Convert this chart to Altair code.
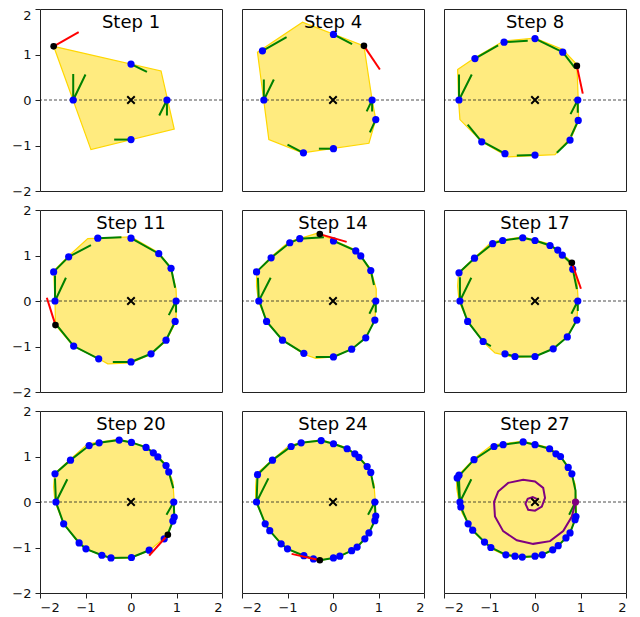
import altair as alt
import pandas as pd

# ---------------- data ----------------
TITLES = ["Step 1", "Step 4", "Step 8", "Step 11", "Step 14", "Step 17", "Step 20", "Step 24", "Step 27"]
TICKS = [-2, -1, 0, 1, 2]

# Step 1
S1_HULL = [(-1.70, 1.18), (0.66, 0.64), (0.95, -0.64), (-0.88, -1.09)]
S1_BLUE = [(0, 0.79), (-1.27, 0), (0.79, 0), (0, -0.87)]
S1_BLACK = [(-1.70, 1.18)]
S1_GREEN = [[(-1.27, 0.57), (-1.27, 0), (-1.00, 0.56)],
            [(0, 0.79), (0.35, 0.62)],
            [(0.62, -0.34), (0.79, 0), (0.79, -0.34)],
            [(0, -0.87), (-0.37, -0.87)]]
S1_RED = [(-1.70, 1.18), (-1.15, 1.49)]

# Step 4
S4_HULL = [(-1.66, 1.05), (-0.67, 1.71), (0.68, 1.19), (0.86, 0.0), (0.94, -0.43), (0.79, -0.95),
           (-0.67, -1.16), (-1.41, -0.87)]
S4_BLUE = [(-1.55, 1.08), (0.01, 1.44), (-1.52, 0), (0.86, 0), (0.94, -0.43), (0.01, -1.07), (-0.65, -1.16)]
S4_BLACK = [(0.68, 1.19)]
S4_GREEN = [[(-1.52, 0.45), (-1.52, 0), (-1.30, 0.45)],
            [(-1.55, 1.08), (-1.02, 1.38)],
            [(0.01, 1.44), (0.42, 1.23)],
            [(0.74, -0.25), (0.86, 0), (0.86, -0.25)],
            [(0.94, -0.43), (0.81, -0.71)],
            [(0.01, -1.07), (-0.31, -1.07)],
            [(-0.65, -1.16), (-1.00, -0.98)]]
S4_RED = [(0.68, 1.19), (1.03, 0.67)]

# Step 8
S8_HULL = [(-1.70, 0.67), (-1.32, 0.93), (-0.68, 1.30), (0, 1.36), (0.61, 1.11), (0.92, 0.78), (0.95, 0),
           (0.96, -0.45), (0.81, -0.80), (0.44, -1.20), (-0.59, -1.25), (-1.17, -0.92), (-1.65, -0.43),
           (-1.68, 0)]
S8_BLUE = [(-0.68, 1.27), (0, 1.35), (0.61, 1.05), (-1.32, 0.91), (-1.67, 0), (0.94, 0), (0.95, -0.45),
           (0.77, -0.88), (0, -1.21), (-0.66, -1.18), (-1.17, -0.92)]
S8_BLACK = [(0.92, 0.75)]
S8_GREEN = [[(-1.67, 0.56), (-1.67, 0), (-1.39, 0.56)],
            [(-1.32, 0.91), (-0.81, 1.20)],
            [(-0.68, 1.27), (-0.16, 1.30)],
            [(0, 1.35), (0.55, 1.08)],
            [(0.61, 1.05), (0.88, 0.70)],
            [(0.78, -0.31), (0.94, 0), (0.94, -0.28)],
            [(0.95, -0.45), (0.79, -0.80)],
            [(0.77, -0.88), (0.48, -1.16)],
            [(0, -1.21), (-0.40, -1.22)],
            [(-0.66, -1.18), (-1.10, -0.94)],
            [(-1.17, -0.92), (-1.48, -0.54)]]
S8_RED = [(0.92, 0.75), (1.05, 0.14)]

# Step 11
S11_HULL = [(-1.70, 0.66), (-1.37, 0.99), (-0.95, 1.37), (0, 1.41), (0.61, 1.06), (0.88, 0.73), (0.99, 0.26),
            (1.00, 0), (0.99, -0.45), (0.77, -0.88), (0.44, -1.17), (0, -1.36), (-0.51, -1.38),
            (-0.71, -1.27), (-1.26, -1.00), (-1.66, -0.53), (-1.67, 0)]
S11_BLUE = [(-0.73, 1.38), (0, 1.38), (0.61, 1.04), (0.88, 0.72), (-1.37, 0.97), (-1.70, 0.64), (-1.67, 0),
            (0.99, 0), (0.97, -0.45), (0.77, -0.86), (0.44, -1.16), (0, -1.34), (-0.71, -1.27), (-1.26, -0.99)]
S11_BLACK = [(-1.66, -0.53)]
S11_GREEN = [[(-1.67, 0.56), (-1.67, 0), (-1.43, 0.51)],
             [(-1.70, 0.64), (-1.37, 0.97), (-0.88, 1.23)],
             [(-0.73, 1.38), (-0.21, 1.40)],
             [(0, 1.38), (0.61, 1.04), (0.88, 0.72), (0.97, 0.29)],
             [(0.83, -0.31), (0.99, 0), (0.99, -0.25)],
             [(0.97, -0.45), (0.77, -0.86), (0.44, -1.16), (0, -1.34), (-0.40, -1.34)],
             [(-0.71, -1.27), (-1.26, -0.99), (-1.61, -0.56)]]
S11_RED = [(-1.66, -0.53), (-1.85, 0.07)]

# Step 14
S14_HULL = [(-1.68, 0.64), (-1.36, 0.97), (-0.97, 1.30), (-0.34, 1.49), (0.01, 1.34), (0.50, 1.12),
            (0.83, 0.70), (0.95, 0.26), (0.95, 0), (0.92, -0.42), (0.72, -0.81), (0.41, -1.06),
            (0.01, -1.23), (-0.38, -1.26), (-0.64, -1.17), (-1.11, -0.86), (-1.46, -0.45), (-1.64, 0),
            (-1.68, 0.33)]
S14_BLUE = [(0.01, 1.32), (0.50, 1.10), (0.61, 0.99), (0.83, 0.67), (-0.73, 1.37), (-0.95, 1.28),
            (-1.36, 0.95), (-1.68, 0.64), (-1.63, 0), (0.94, 0), (0.92, -0.42), (0.72, -0.81),
            (0.41, -1.06), (0.01, -1.23), (-0.64, -1.15), (-1.11, -0.86), (-1.46, -0.45)]
S14_BLACK = [(-0.29, 1.47)]
S14_GREEN = [[(-1.65, 0.51), (-1.63, 0), (-1.37, 0.51)],
             [(-1.68, 0.64), (-1.36, 0.95), (-0.95, 1.28), (-0.73, 1.37), (-0.20, 1.40)],
             [(0.01, 1.32), (0.50, 1.10), (0.61, 0.99), (0.83, 0.67), (0.90, 0.35)],
             [(0.80, -0.28), (0.94, 0), (0.94, -0.25)],
             [(0.92, -0.42), (0.72, -0.81), (0.41, -1.06), (0.01, -1.23), (-0.38, -1.23)],
             [(-0.64, -1.15), (-1.11, -0.86), (-1.46, -0.45), (-1.60, -0.05)]]
S14_RED = [(-0.29, 1.47), (0.30, 1.30)]

# Step 17
S17_HULL = [(-1.68, 0.62), (-1.33, 0.95), (-0.95, 1.30), (-0.27, 1.41), (0.33, 1.25), (0.60, 1.03),
            (0.81, 0.86), (0.92, 0.48), (0.95, 0), (0.92, -0.42), (0.71, -0.79), (0.40, -1.05), (0, -1.22),
            (-0.44, -1.24), (-0.88, -1.14), (-1.14, -0.90), (-1.48, -0.45), (-1.67, 0), (-1.70, 0.33)]
S17_BLUE = [(-0.27, 1.39), (0, 1.33), (0.33, 1.22), (0.50, 1.12), (0.60, 1.01), (0.83, 0.70), (-0.71, 1.33),
            (-0.93, 1.26), (-1.33, 0.94), (-1.67, 0.62), (-1.65, 0), (0.94, 0), (0.92, -0.42), (0.71, -0.79),
            (0.40, -1.05), (0, -1.22), (-0.44, -1.22), (-0.66, -1.16), (-1.14, -0.89), (-1.48, -0.45)]
S17_BLACK = [(0.81, 0.84)]
S17_GREEN = [[(-1.65, 0.52), (-1.65, 0), (-1.40, 0.51)],
             [(-1.67, 0.62), (-1.33, 0.94), (-0.93, 1.26), (-0.71, 1.33), (-0.27, 1.39), (0, 1.33),
              (0.33, 1.22), (0.50, 1.12), (0.60, 1.01), (0.78, 0.84)],
             [(0.83, 0.70), (0.92, 0.26)],
             [(0.80, -0.28), (0.94, 0), (0.94, -0.22)],
             [(0.92, -0.42), (0.71, -0.79), (0.40, -1.05), (0, -1.22), (-0.44, -1.22), (-0.66, -1.16)],
             [(-0.97, -0.99), (-1.14, -0.89), (-1.48, -0.45), (-1.63, -0.04)]]
S17_RED = [(0.81, 0.84), (1.01, 0.27)]

# Step 20
S20_HULL = [(-1.68, 0.62), (-1.33, 0.94), (-0.95, 1.28), (-0.26, 1.38), (0.33, 1.22), (0.59, 1.01),
            (0.77, 0.82), (0.92, 0.45), (0.95, 0), (0.96, -0.35), (0.92, -0.44), (0.81, -0.72), (0.40, -1.07),
            (0, -1.23), (-0.44, -1.24), (-0.99, -1.04), (-1.14, -0.91), (-1.48, -0.48), (-1.67, 0),
            (-1.70, 0.33)]
S20_BLUE = [(-0.26, 1.36), (0.01, 1.31), (0.33, 1.20), (0.49, 1.08), (0.59, 0.99), (0.77, 0.80), (0.83, 0.66),
            (-0.70, 1.30), (-0.92, 1.24), (-1.33, 0.92), (-1.67, 0.62), (-1.65, 0), (0.94, 0), (0.95, -0.33),
            (0.92, -0.42), (0.73, -0.81), (0.40, -1.06), (0.01, -1.22), (-0.44, -1.23), (-0.64, -1.17),
            (-0.99, -1.03), (-1.14, -0.90), (-1.48, -0.48)]
S20_BLACK = [(0.81, -0.72)]
S20_GREEN = [[(-1.67, 0.52), (-1.65, 0), (-1.40, 0.50)],
             [(-1.67, 0.62), (-1.33, 0.92), (-0.92, 1.24), (-0.70, 1.30), (-0.26, 1.36), (0.01, 1.31),
              (0.33, 1.20), (0.49, 1.08), (0.59, 0.99), (0.77, 0.80), (0.83, 0.66), (0.93, 0.30)],
             [(0.78, -0.28), (0.94, 0), (0.95, -0.33), (0.92, -0.42), (0.81, -0.70)],
             [(0.40, -1.06), (0.01, -1.22), (-0.44, -1.23), (-0.64, -1.17), (-0.99, -1.03), (-1.14, -0.90),
              (-1.48, -0.48), (-1.65, 0)]]
S20_RED = [(0.81, -0.72), (0.40, -1.18)]

# Step 24
S24_HULL = [(-1.68, 0.62), (-1.33, 0.93), (-0.95, 1.25), (-0.26, 1.37), (0.31, 1.19), (0.57, 0.99),
            (0.75, 0.80), (0.90, 0.40), (0.93, 0), (0.94, -0.32), (0.79, -0.69), (0.53, -1.00), (0.15, -1.20),
            (-0.29, -1.29), (-0.64, -1.19), (-1.00, -1.04), (-1.39, -0.64), (-1.56, -0.30), (-1.70, 0),
            (-1.70, 0.33)]
S24_BLUE = [(-0.26, 1.35), (0.01, 1.28), (0.31, 1.17), (0.48, 1.06), (0.57, 0.98), (0.75, 0.78), (0.83, 0.65),
            (-0.70, 1.30), (-0.92, 1.22), (-1.33, 0.92), (-1.66, 0.60), (-1.68, 0), (0.92, 0), (0.94, -0.31),
            (0.92, -0.41), (0.79, -0.68), (0.70, -0.81), (0.53, -0.99), (0.41, -1.07), (0.15, -1.19),
            (0.01, -1.23), (-0.43, -1.25), (-0.64, -1.18), (-1.00, -1.03), (-1.14, -0.92), (-1.39, -0.63),
            (-1.49, -0.48)]
S24_BLACK = [(-0.29, -1.28)]
S24_GREEN = [[(-1.66, 0.55), (-1.68, 0), (-1.42, 0.52)],
             [(-1.66, 0.60), (-1.33, 0.92), (-0.92, 1.22), (-0.70, 1.30), (-0.26, 1.35), (0.01, 1.28),
              (0.31, 1.17), (0.48, 1.06), (0.57, 0.98), (0.75, 0.78), (0.83, 0.65), (0.90, 0.30)],
             [(0.77, -0.28), (0.92, 0), (0.93, -0.25)],
             [(0.94, -0.31), (0.92, -0.41), (0.79, -0.68), (0.70, -0.81), (0.53, -0.99), (0.41, -1.07),
              (0.15, -1.19), (0.01, -1.23), (-0.29, -1.28)],
             [(-0.43, -1.25), (-0.64, -1.18), (-1.00, -1.03), (-1.14, -0.92), (-1.39, -0.63), (-1.49, -0.48),
              (-1.68, 0)]]
S24_RED = [(-0.29, -1.28), (-0.91, -1.14)]

# Step 27
S27_HULL = [(-1.72, 0.55), (-1.34, 0.95), (-0.95, 1.25), (-0.26, 1.34), (0.32, 1.19), (0.56, 1.02),
            (0.73, 0.78), (0.88, 0.40), (0.91, 0), (0.90, -0.33), (0.77, -0.69), (0.51, -0.97), (0.16, -1.18),
            (-0.28, -1.23), (-0.64, -1.18), (-0.97, -1.02), (-1.37, -0.64), (-1.60, -0.25), (-1.67, 0),
            (-1.72, 0.30)]
S27_BLUE = [(-0.26, 1.32), (0, 1.26), (0.32, 1.17), (0.46, 1.06), (0.56, 1.00), (0.73, 0.76), (0.81, 0.62),
            (-0.70, 1.26), (-0.90, 1.22), (-1.34, 0.93), (-1.67, 0.59), (-1.71, 0.53), (-1.65, 0),
            (-1.63, -0.11), (0.90, -0.32), (0.88, -0.39), (0.77, -0.68), (0.68, -0.79), (0.51, -0.96),
            (0.39, -1.05), (0.16, -1.16), (0, -1.19), (-0.28, -1.21), (-0.44, -1.19), (-0.64, -1.16),
            (-0.97, -1.00), (-1.11, -0.88), (-1.37, -0.62), (-1.47, -0.48)]
S27_BLACK = []
S27_GREEN = [[(-1.67, 0.50), (-1.65, 0), (-1.40, 0.50)],
             [(-1.71, 0.53), (-1.34, 0.93), (-0.90, 1.22), (-0.70, 1.26), (-0.26, 1.32), (0, 1.26),
              (0.32, 1.17), (0.46, 1.06), (0.56, 1.00), (0.73, 0.76), (0.81, 0.62), (0.89, 0.25), (0.89, 0)],
             [(0.75, -0.28), (0.89, 0)],
             [(0.89, 0), (0.90, -0.32), (0.88, -0.39), (0.77, -0.68), (0.68, -0.79), (0.51, -0.96),
              (0.39, -1.05), (0.16, -1.16), (0, -1.19), (-0.28, -1.21), (-0.44, -1.19), (-0.64, -1.16),
              (-0.97, -1.00), (-1.11, -0.88), (-1.37, -0.62), (-1.47, -0.48), (-1.63, -0.11), (-1.65, 0),
              (-1.71, 0.53)]]
S27_RED = []
S27_PURPLE_DOT = [(0.89, 0.0)]
S27_SPIRAL = [(0.89, 0), (0.81, -0.32), (0.62, -0.64), (0.33, -0.86), (-0.04, -0.92), (-0.40, -0.84),
              (-0.70, -0.64), (-0.88, -0.32), (-0.90, 0), (-0.81, 0.23), (-0.59, 0.42), (-0.26, 0.49),
              (0, 0.45), (0.18, 0.31), (0.22, 0.09), (0.15, -0.10), (0, -0.19), (-0.15, -0.17),
              (-0.21, -0.04), (-0.16, 0.07), (-0.05, 0.11), (0.04, 0.07)]

PANELS = [
    (S1_HULL, S1_BLUE, S1_BLACK, S1_GREEN, S1_RED),
    (S4_HULL, S4_BLUE, S4_BLACK, S4_GREEN, S4_RED),
    (S8_HULL, S8_BLUE, S8_BLACK, S8_GREEN, S8_RED),
    (S11_HULL, S11_BLUE, S11_BLACK, S11_GREEN, S11_RED),
    (S14_HULL, S14_BLUE, S14_BLACK, S14_GREEN, S14_RED),
    (S17_HULL, S17_BLUE, S17_BLACK, S17_GREEN, S17_RED),
    (S20_HULL, S20_BLUE, S20_BLACK, S20_GREEN, S20_RED),
    (S24_HULL, S24_BLUE, S24_BLACK, S24_GREEN, S24_RED),
    (S27_HULL, S27_BLUE, S27_BLACK, S27_GREEN, S27_RED),
]

# ---------------- chart building ----------------
FONT = "DejaVu Sans"
W = H = 182


def pts_df(pts):
    return pd.DataFrame({"x": [p[0] for p in pts], "y": [p[1] for p in pts], "i": list(range(len(pts)))})


def paths_df(paths):
    rows = []
    for k, path in enumerate(paths):
        for i, p in enumerate(path):
            rows.append({"x": p[0], "y": p[1], "i": i, "seg": k})
    return pd.DataFrame(rows, columns=["x", "y", "i", "seg"])


def panel(idx):
    hull, blue, black, green, red = PANELS[idx]
    row, col = divmod(idx, 3)
    sc = alt.Scale(domain=[-2, 2], nice=False, zero=False)
    if row == 2:
        xaxis = alt.Axis(values=TICKS, title=None, grid=False, domain=False, tickSize=5,
                         labelPadding=3, labelFont=FONT, labelFontSize=13, labelColor="#111",
                         tickColor="#222", tickWidth=1)
    else:
        xaxis = None
    if col == 0:
        lb = "middle"
        if row == 0:
            lb = {"condition": {"test": "datum.value == 2", "value": "top"}, "value": "middle"}
        yaxis = alt.Axis(values=TICKS, title=None, grid=False, domain=False, tickSize=5,
                         labelPadding=4, labelFont=FONT, labelFontSize=13, labelColor="#111",
                         tickColor="#222", tickWidth=1, labelBaseline=lb)
    else:
        yaxis = None

    X = alt.X("x:Q", scale=sc, axis=xaxis)
    Y = alt.Y("y:Q", scale=sc, axis=yaxis)

    layers = []
    layers.append(
        alt.Chart(pts_df(hull)).mark_line(interpolate="linear-closed", fill="#FFD700", fillOpacity=0.5,
                                          stroke="#FFD700", strokeWidth=1.2)
        .encode(x=X, y=Y, order="i:Q")
    )
    layers.append(
        alt.Chart(pd.DataFrame({"y": [0]})).mark_rule(color="#222", strokeWidth=0.8, strokeDash=[3, 2])
        .encode(y=Y)
    )
    if green:
        layers.append(
            alt.Chart(paths_df(green)).mark_line(color="green", strokeWidth=2)
            .encode(x=X, y=Y, detail="seg:N", order="i:Q")
        )
    if idx == 8:
        layers.append(
            alt.Chart(pts_df(S27_SPIRAL)).mark_line(color="purple", strokeWidth=2)
            .encode(x=X, y=Y, order="i:Q")
        )
    layers.append(
        alt.Chart(pts_df(blue)).mark_circle(size=52, color="#0000ff", opacity=1)
        .encode(x=X, y=Y)
    )
    if red:
        layers.append(
            alt.Chart(paths_df([red])).mark_line(color="red", strokeWidth=2)
            .encode(x=X, y=Y, order="i:Q")
        )
    if black:
        layers.append(
            alt.Chart(pts_df(black)).mark_circle(size=44, color="black", opacity=1)
            .encode(x=X, y=Y)
        )
    if idx == 8:
        layers.append(
            alt.Chart(pts_df(S27_PURPLE_DOT)).mark_circle(size=52, color="purple", opacity=1)
            .encode(x=X, y=Y)
        )
    layers.append(
        alt.Chart(pd.DataFrame({"x": [0], "y": [0]}))
        .mark_point(shape="M-1,-1L1,1M-1,1L1,-1", size=56, filled=False, stroke="black",
                    strokeWidth=2, opacity=1)
        .encode(x=X, y=Y)
    )
    layers.append(
        alt.Chart(pd.DataFrame({"t": [TITLES[idx]]}))
        .mark_text(font=FONT, fontSize=18, color="black", baseline="alphabetic", align="center")
        .encode(text="t:N", x=alt.value(W / 2), y=alt.value(19))
    )
    return alt.layer(*layers).properties(width=W, height=H)


chart = (
    alt.concat(*[panel(i) for i in range(9)], columns=3, spacing={"row": 19, "column": 20}, bounds="flush")
    .properties(padding={"left": 3, "top": 0, "right": 0, "bottom": 0})
    .configure_view(stroke="#222", strokeWidth=1)
)

chart.save("out.html", embed_options={"renderer": "svg", "actions": False})
